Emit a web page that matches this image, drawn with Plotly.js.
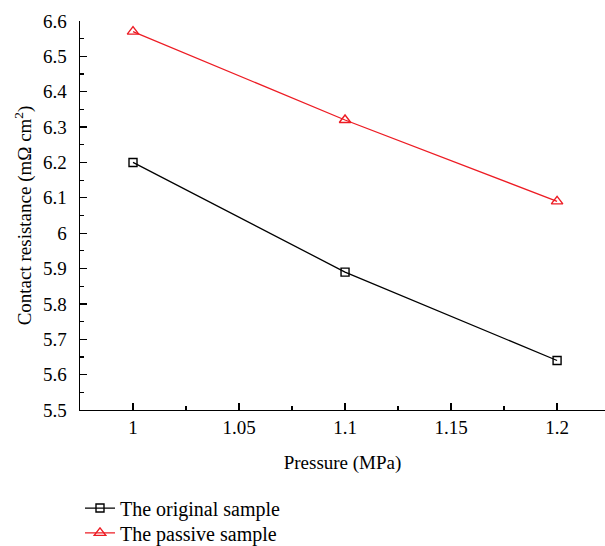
<!DOCTYPE html>
<html>
<head>
<meta charset="utf-8">
<script src="https://cdn.plot.ly/plotly-3.0.1.min.js"></script>
<style>html,body{margin:0;padding:0;background:#fff;}#chart{width:605px;height:546px;}</style>
</head>
<body>
<div id="chart"></div>
<script>
const pressure = [1.0, 1.1, 1.2];
const originalSample = [6.20, 5.89, 5.64];
const passiveSample = [6.57, 6.32, 6.09];
const seriesNames = ["The original sample", "The passive sample"];
const xTickVals = [1, 1.05, 1.1, 1.15, 1.2];
const xTickText = ["1", "1.05", "1.1", "1.15", "1.2"];
const yTickVals = [5.5, 5.6, 5.7, 5.8, 5.9, 6, 6.1, 6.2, 6.3, 6.4, 6.5, 6.6];
const yTickText = ["5.5", "5.6", "5.7", "5.8", "5.9", "6", "6.1", "6.2", "6.3", "6.4", "6.5", "6.6"];

const fontFam = "Liberation Serif, DejaVu Serif, serif";

const traces = [
  {
    x: pressure, y: originalSample, name: seriesNames[0], legend: "legend",
    mode: "lines+markers", type: "scatter",
    line: {color: "#000000", width: 1.3},
    marker: {symbol: "square-open", size: 8, color: "#000000", line: {width: 1.4}}
  },
  {
    x: pressure, y: passiveSample, name: seriesNames[1], legend: "legend2",
    mode: "lines+markers", type: "scatter",
    line: {color: "#ed1c24", width: 1.3},
    marker: {symbol: "triangle-up-open", size: 10, color: "#ed1c24", line: {width: 1.4}}
  }
];

const legendBase = {
  xanchor: "left", yanchor: "middle",
  x: 0,
  font: {family: fontFam, size: 20, color: "#000"},
  bgcolor: "rgba(0,0,0,0)"
};

const layout = {
  width: 605, height: 546,
  margin: {l: 80, r: 0, t: 21, b: 136, autoexpand: false},
  paper_bgcolor: "#fff", plot_bgcolor: "#fff",
  font: {family: fontFam, size: 19, color: "#000"},
  showlegend: true,
  legend: Object.assign({}, legendBase, {y: -0.252}),
  legend2: Object.assign({}, legendBase, {y: -0.316}),
  xaxis: {
    range: [0.975, 1.2226],
    tickvals: xTickVals, ticktext: xTickText,
    ticks: "inside", ticklen: 7, tickwidth: 1.2, tickcolor: "#000",
    minor: {dtick: 0.025, ticks: "inside", ticklen: 4, tickwidth: 1.2, tickcolor: "#000"},
    showline: true, linecolor: "#000", linewidth: 1.4,
    showgrid: false, zeroline: false,
    tickfont: {family: fontFam, size: 19},
    title: {text: "Pressure (MPa)", font: {family: fontFam, size: 19}, standoff: 18}
  },
  yaxis: {
    range: [5.5, 6.6],
    tickvals: yTickVals, ticktext: yTickText,
    ticks: "inside", ticklen: 7, tickwidth: 1.2, tickcolor: "#000",
    minor: {dtick: 0.05, tick0: 5.5, ticks: "inside", ticklen: 4, tickwidth: 1.2, tickcolor: "#000"},
    showline: true, linecolor: "#000", linewidth: 1.4,
    showgrid: false, zeroline: false,
    tickfont: {family: fontFam, size: 19},
    ticklabelstandoff: 8,
    title: {text: "Contact resistance (mΩ cm<sup>2</sup>)", font: {family: fontFam, size: 19}, standoff: 6}
  }
};

Plotly.newPlot("chart", traces, layout, {displayModeBar: false, staticPlot: true});
</script>
</body>
</html>
